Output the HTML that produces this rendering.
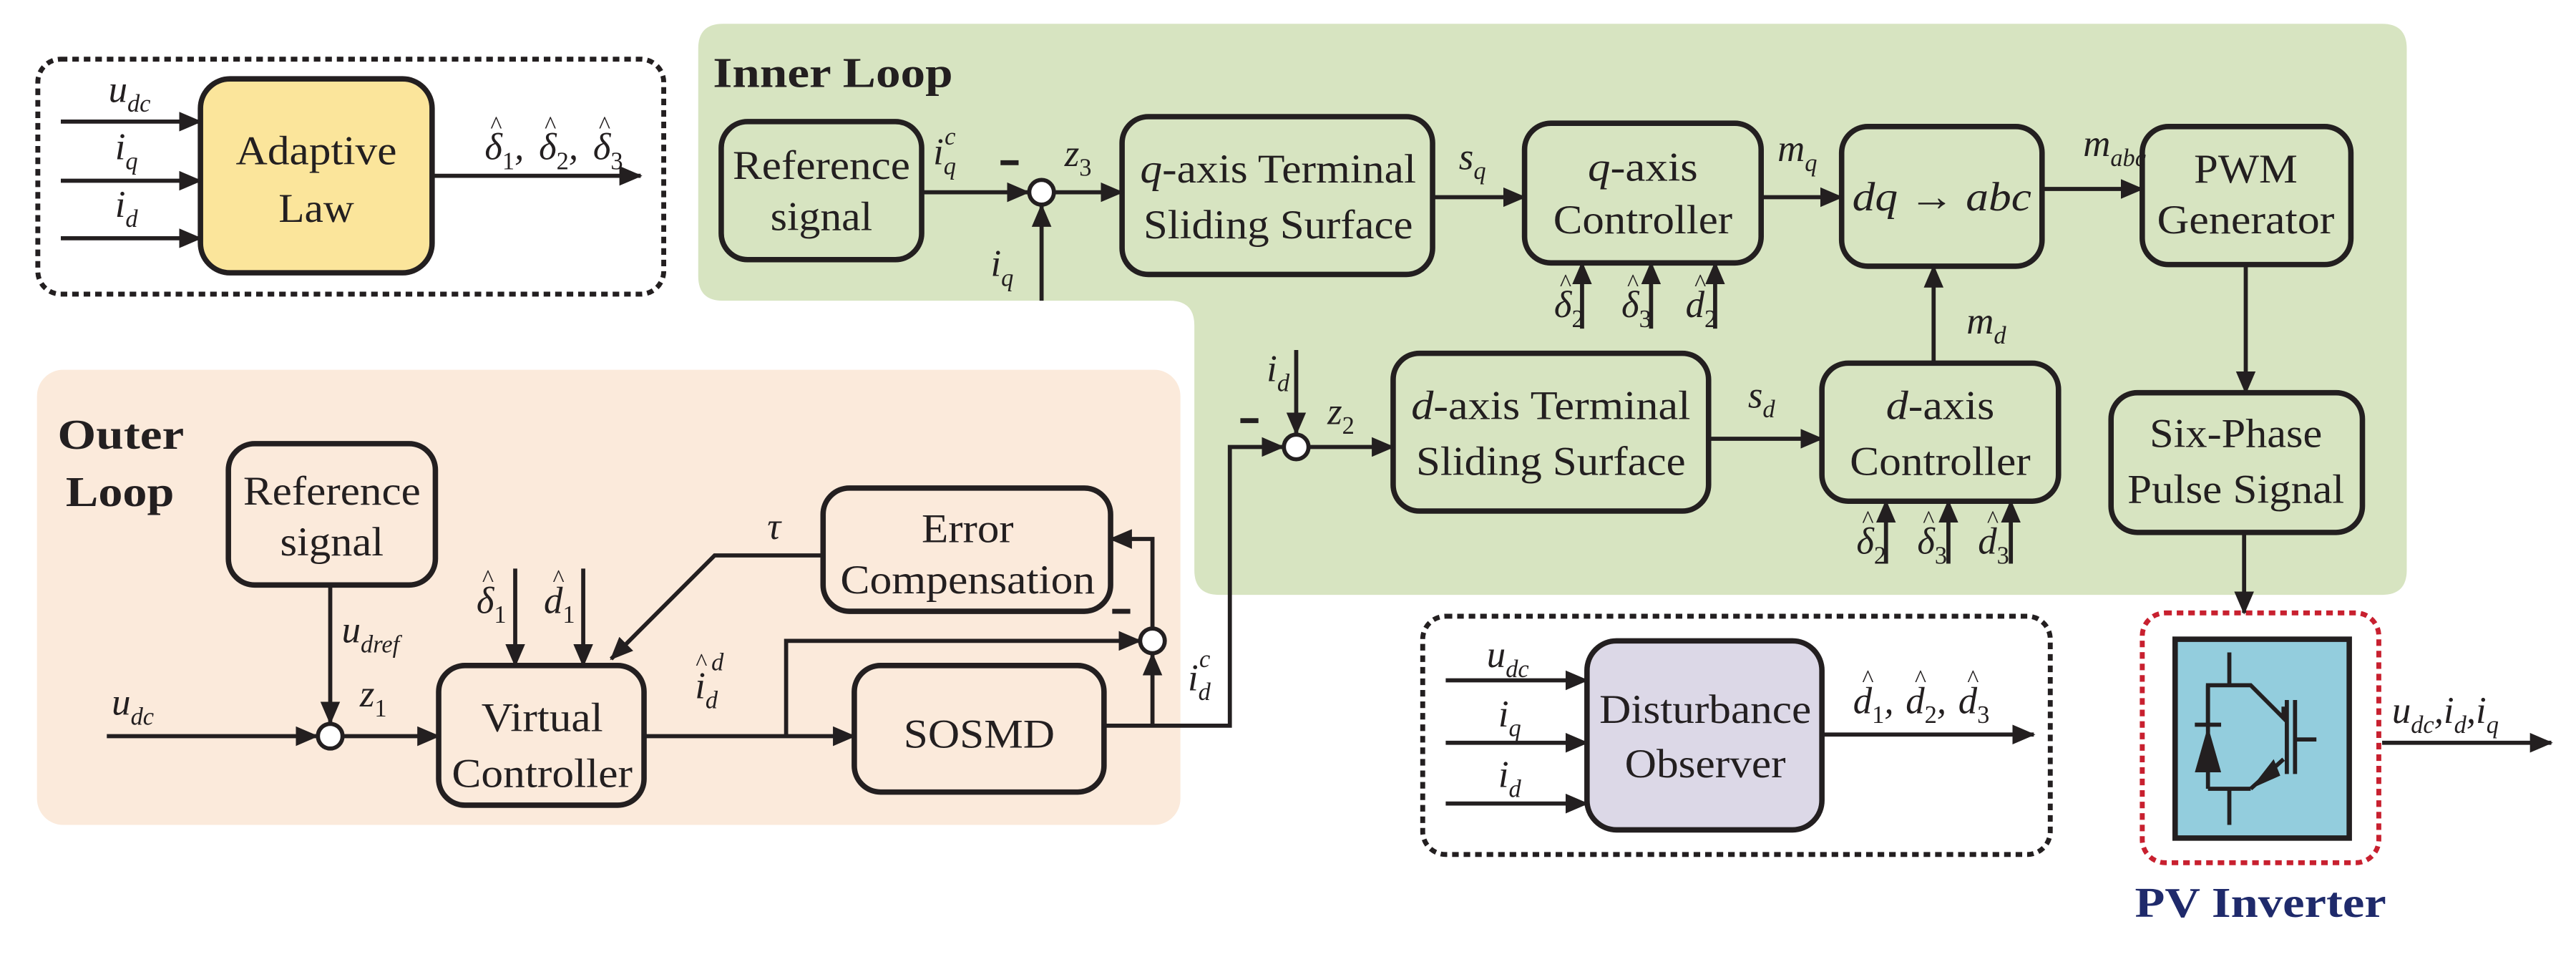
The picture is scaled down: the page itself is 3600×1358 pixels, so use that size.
<!DOCTYPE html>
<html><head><meta charset="utf-8"><style>
html,body{margin:0;padding:0;background:#fff;}
svg{display:block;}
text{font-family:"Liberation Serif",serif;fill:#231f20;}
.b{font-size:25px;}
.m{font-size:23px;font-style:italic;}
.s{font-size:15px;font-style:italic;}
.n{font-size:15px;font-style:normal;}
.h{font-size:15px;font-style:normal;text-anchor:middle;}
</style></head><body>
<svg width="3600" height="1358" viewBox="0 0 1568 591.5" xmlns="http://www.w3.org/2000/svg">
<defs>
<marker id="a" markerUnits="userSpaceOnUse" markerWidth="14" markerHeight="12" refX="13" refY="6" orient="auto">
<path d="M0,0 L14,6 L0,12 z" fill="#231f20"/></marker>
</defs>
<path d="M440,14.5 H1450 Q1465,14.5 1465,29.5 V347 Q1465,362 1450,362 H742 Q727,362 727,347 V198 Q727,183 712,183 H440 Q425,183 425,168 V29.5 Q425,14.5 440,14.5 Z" fill="#d7e4c1"/>
<rect x="22.5" y="225" width="696" height="277" rx="16" fill="#fbeadb"/>

<g fill="none" stroke="#231f20" stroke-width="2.5">
<rect x="23" y="36" width="381" height="143" rx="14" stroke-dasharray="4,3" stroke-width="3"/>
<rect x="866" y="375" width="382" height="145" rx="14" stroke-dasharray="4,3" stroke-width="3"/>
<rect x="1304" y="373" width="144" height="152" rx="14" stroke="#c8202f" stroke-dasharray="4,3" stroke-width="3"/>
</g>

<g stroke="#231f20" stroke-width="3.3">
<rect x="122" y="48" width="141" height="118" rx="18" fill="#fbe59b"/>
<rect x="439" y="74" width="122" height="84" rx="16" fill="#d7e4c1"/>
<rect x="683" y="71" width="189" height="96" rx="16" fill="#d7e4c1"/>
<rect x="928" y="75" width="144" height="85" rx="16" fill="#d7e4c1"/>
<rect x="1121" y="77" width="122" height="85" rx="16" fill="#d7e4c1"/>
<rect x="1304" y="77" width="127" height="84" rx="16" fill="#d7e4c1"/>
<rect x="1285" y="239" width="153" height="85" rx="16" fill="#d7e4c1"/>
<rect x="848" y="215" width="192" height="96" rx="16" fill="#d7e4c1"/>
<rect x="1109" y="221" width="144" height="84" rx="16" fill="#d7e4c1"/>
<rect x="966" y="390" width="143" height="115" rx="18" fill="#dcd8e7"/>
<rect x="139" y="270" width="126" height="86" rx="16" fill="#fbeadb"/>
<rect x="501" y="297" width="175" height="75" rx="16" fill="#fbeadb"/>
<rect x="267" y="405" width="125" height="85" rx="16" fill="#fbeadb"/>
<rect x="520" y="405" width="152" height="77" rx="16" fill="#fbeadb"/>
<rect x="1324" y="389" width="106" height="121" fill="#93cddd"/>
</g>

<g fill="#fff" stroke="#231f20" stroke-width="2.5">
<circle cx="634" cy="117" r="7.5"/>
<circle cx="789" cy="272" r="7.5"/>
<circle cx="201" cy="448" r="7.5"/>
<circle cx="701.5" cy="390" r="7.5"/>
</g>

<g fill="none" stroke="#231f20" stroke-width="2.5" marker-end="url(#a)">
<line x1="37" y1="74" x2="122" y2="74"/>
<line x1="37" y1="110" x2="122" y2="110"/>
<line x1="37" y1="145" x2="122" y2="145"/>
<line x1="263" y1="107" x2="390" y2="107"/>
<line x1="561" y1="117" x2="626" y2="117"/>
<line x1="634" y1="183" x2="634" y2="125"/>
<line x1="641" y1="117" x2="683" y2="117"/>
<line x1="872" y1="120" x2="928" y2="120"/>
<line x1="963" y1="200" x2="963" y2="160"/>
<line x1="1005" y1="200" x2="1005" y2="160"/>
<line x1="1044" y1="200" x2="1044" y2="160"/>
<line x1="1072" y1="120" x2="1121" y2="120"/>
<line x1="1243" y1="115" x2="1304" y2="115"/>
<line x1="1367" y1="161" x2="1367" y2="239"/>
<line x1="1366" y1="324" x2="1366" y2="373"/>
<line x1="1450" y1="452" x2="1553" y2="452"/>
<line x1="789" y1="213" x2="789" y2="264"/>
<polyline points="672,441.6 748.6,441.6 748.6,272 781,272"/>
<line x1="797" y1="272" x2="848" y2="272"/>
<line x1="1040" y1="267" x2="1109" y2="267"/>
<line x1="1177" y1="221" x2="1177" y2="162"/>
<line x1="1148" y1="343" x2="1148" y2="305"/>
<line x1="1186" y1="343" x2="1186" y2="305"/>
<line x1="1224" y1="343" x2="1224" y2="305"/>
<line x1="880" y1="414" x2="966" y2="414"/>
<line x1="880" y1="452" x2="966" y2="452"/>
<line x1="880" y1="489" x2="966" y2="489"/>
<line x1="1109" y1="447" x2="1238" y2="447"/>
<line x1="201" y1="356" x2="201" y2="440"/>
<line x1="65" y1="448" x2="193" y2="448"/>
<line x1="209" y1="448" x2="267" y2="448"/>
<line x1="313.6" y1="346" x2="313.6" y2="405"/>
<line x1="355" y1="346" x2="355" y2="405"/>
<polyline points="501,338 435,338 372,401"/>
<line x1="392" y1="448" x2="520" y2="448"/>
<polyline points="478.5,448 478.5,390 694,390"/>
<line x1="701.5" y1="441.6" x2="701.5" y2="398"/>
<polyline points="701.5,382.5 701.5,328 676,328"/>
</g>

<g fill="none" stroke="#231f20" stroke-width="2.5">
<line x1="1357" y1="397" x2="1357" y2="417"/>
<line x1="1357" y1="480" x2="1357" y2="502"/>
<polyline points="1344,441 1344,417 1370,417 1390,437 1390,430"/>
<line x1="1344" y1="417" x2="1344" y2="480"/>
<line x1="1344" y1="480" x2="1370" y2="480"/>
<line x1="1370" y1="480" x2="1390" y2="462"/>
<line x1="1392" y1="426" x2="1392" y2="471"/>
<line x1="1397" y1="426" x2="1397" y2="471"/>
<line x1="1397" y1="450" x2="1410" y2="450"/>
<line x1="1336" y1="441" x2="1352" y2="441"/>
</g>
<path d="M1336,470 L1352,470 L1344,442 z" fill="#231f20"/>
<path d="M1370,480 L1384,462 L1388,472 z" fill="#231f20"/>

<g stroke="#231f20" stroke-width="3">
<line x1="609" y1="99" x2="620" y2="99"/>
<line x1="755" y1="256" x2="766" y2="256"/>
<line x1="677" y1="372" x2="688" y2="372"/>
</g>

<g class="b" text-anchor="middle">
<text x="192.5" y="100" textLength="98" lengthAdjust="spacingAndGlyphs">Adaptive</text>
<text x="192.5" y="135" textLength="46" lengthAdjust="spacingAndGlyphs">Law</text>
<text x="500" y="109" textLength="108" lengthAdjust="spacingAndGlyphs">Reference</text>
<text x="500" y="140" textLength="62" lengthAdjust="spacingAndGlyphs">signal</text>
<text x="778" y="111" textLength="168" lengthAdjust="spacingAndGlyphs"><tspan font-style="italic">q</tspan>-axis Terminal</text>
<text x="778" y="145" textLength="164" lengthAdjust="spacingAndGlyphs">Sliding Surface</text>
<text x="1000" y="110" textLength="67" lengthAdjust="spacingAndGlyphs"><tspan font-style="italic">q</tspan>-axis</text>
<text x="1000" y="142" textLength="109" lengthAdjust="spacingAndGlyphs">Controller</text>
<text x="1182" y="128" textLength="109" lengthAdjust="spacingAndGlyphs" font-style="italic">dq → abc</text>
<text x="1367" y="111" textLength="63" lengthAdjust="spacingAndGlyphs">PWM</text>
<text x="1367" y="142" textLength="108" lengthAdjust="spacingAndGlyphs">Generator</text>
<text x="1361" y="272" textLength="105" lengthAdjust="spacingAndGlyphs">Six-Phase</text>
<text x="1361" y="306" textLength="132" lengthAdjust="spacingAndGlyphs">Pulse Signal</text>
<text x="944" y="255" textLength="170" lengthAdjust="spacingAndGlyphs"><tspan font-style="italic">d</tspan>-axis Terminal</text>
<text x="944" y="289" textLength="164" lengthAdjust="spacingAndGlyphs">Sliding Surface</text>
<text x="1181" y="255" textLength="66" lengthAdjust="spacingAndGlyphs"><tspan font-style="italic">d</tspan>-axis</text>
<text x="1181" y="289" textLength="110" lengthAdjust="spacingAndGlyphs">Controller</text>
<text x="1038" y="440" textLength="129" lengthAdjust="spacingAndGlyphs">Disturbance</text>
<text x="1038" y="473" textLength="98" lengthAdjust="spacingAndGlyphs">Observer</text>
<text x="202" y="307" textLength="108" lengthAdjust="spacingAndGlyphs">Reference</text>
<text x="202" y="338" textLength="63" lengthAdjust="spacingAndGlyphs">signal</text>
<text x="589" y="330" textLength="56" lengthAdjust="spacingAndGlyphs">Error</text>
<text x="589" y="361" textLength="155" lengthAdjust="spacingAndGlyphs">Compensation</text>
<text x="330" y="445" textLength="74" lengthAdjust="spacingAndGlyphs">Virtual</text>
<text x="330" y="479" textLength="110" lengthAdjust="spacingAndGlyphs">Controller</text>
<text x="596" y="455" textLength="92" lengthAdjust="spacingAndGlyphs">SOSMD</text>
</g>

<text x="434" y="53" font-size="26" font-weight="bold" textLength="146" lengthAdjust="spacingAndGlyphs">Inner Loop</text>
<text x="35" y="273" font-size="26" font-weight="bold" textLength="77" lengthAdjust="spacingAndGlyphs">Outer</text>
<text x="40" y="308" font-size="26" font-weight="bold" textLength="66" lengthAdjust="spacingAndGlyphs">Loop</text>
<text x="1376" y="558" font-size="26" font-weight="bold" text-anchor="middle" textLength="153" lengthAdjust="spacingAndGlyphs" style="fill:#1f2a6b">PV Inverter</text>

<g class="m">
<text x="66" y="62">u<tspan class="s" dy="6">dc</tspan></text>
<text x="70" y="97">i<tspan class="s" dy="6">q</tspan></text>
<text x="70" y="132">i<tspan class="s" dy="6">d</tspan></text>
<text x="295" y="97">δ<tspan class="n" dy="6">1</tspan><tspan dy="-6">,</tspan></text>
<text x="328" y="97">δ<tspan class="n" dy="6">2</tspan><tspan dy="-6">,</tspan></text>
<text x="361" y="97">δ<tspan class="n" dy="6">3</tspan></text>

<text x="568" y="100">i<tspan class="s" dy="6">q</tspan></text>
<text x="575" y="88" class="s">c</text>
<text x="648" y="101">z<tspan class="n" dy="6">3</tspan></text>
<text x="603" y="168">i<tspan class="s" dy="6">q</tspan></text>
<text x="888" y="103">s<tspan class="s" dy="6">q</tspan></text>
<text x="1082" y="98">m<tspan class="s" dy="6">q</tspan></text>
<text x="1268" y="95">m<tspan class="s" dy="6">abc</tspan></text>
<text x="1197" y="203">m<tspan class="s" dy="6">d</tspan></text>
<text x="1064" y="248">s<tspan class="s" dy="6">d</tspan></text>
<text x="771" y="232">i<tspan class="s" dy="6">d</tspan></text>
<text x="808" y="258">z<tspan class="n" dy="6">2</tspan></text>

<text x="946" y="193">δ<tspan class="n" dy="6">2</tspan></text>
<text x="987" y="193">δ<tspan class="n" dy="6">3</tspan></text>
<text x="1026" y="193">d<tspan class="n" dy="6">2</tspan></text>
<text x="1130" y="337">δ<tspan class="n" dy="6">2</tspan></text>
<text x="1167" y="337">δ<tspan class="n" dy="6">3</tspan></text>
<text x="1204" y="337">d<tspan class="n" dy="6">3</tspan></text>

<text x="905" y="406">u<tspan class="s" dy="6">dc</tspan></text>
<text x="912" y="442">i<tspan class="s" dy="6">q</tspan></text>
<text x="912" y="479">i<tspan class="s" dy="6">d</tspan></text>
<text x="1128" y="434">d<tspan class="n" dy="6">1</tspan><tspan dy="-6">,</tspan></text>
<text x="1160" y="434">d<tspan class="n" dy="6">2</tspan><tspan dy="-6">,</tspan></text>
<text x="1192" y="434">d<tspan class="n" dy="6">3</tspan></text>
<text x="1456" y="440">u<tspan class="s" dy="6">dc</tspan><tspan dy="-6">,</tspan>i<tspan class="s" dy="6">d</tspan><tspan dy="-6">,</tspan>i<tspan class="s" dy="6">q</tspan></text>

<text x="68" y="435">u<tspan class="s" dy="6">dc</tspan></text>
<text x="208" y="391">u<tspan class="s" dy="6">dref</tspan></text>
<text x="219" y="430">z<tspan class="n" dy="6">1</tspan></text>
<text x="290" y="373">δ<tspan class="n" dy="6">1</tspan></text>
<text x="331" y="373">d<tspan class="n" dy="6">1</tspan></text>
<text x="467" y="328">τ</text>
<text x="423" y="425">i<tspan class="s" dy="6">d</tspan></text>
<text x="433" y="408" class="s">d</text>
<text x="723" y="420">i<tspan class="s" dy="6">d</tspan></text>
<text x="730" y="406" class="s">c</text>
</g>
<g class="h">
<text x="302" y="81">^</text><text x="335" y="81">^</text><text x="368" y="81">^</text>
<text x="953" y="177">^</text><text x="994" y="177">^</text><text x="1035" y="177">^</text>
<text x="1137" y="321">^</text><text x="1174" y="321">^</text><text x="1213" y="321">^</text>
<text x="297" y="357">^</text><text x="340" y="357">^</text>
<text x="1137" y="418">^</text><text x="1169" y="418">^</text><text x="1201" y="418">^</text>
<text x="427" y="408">^</text>
</g>
</svg>
</body></html>
